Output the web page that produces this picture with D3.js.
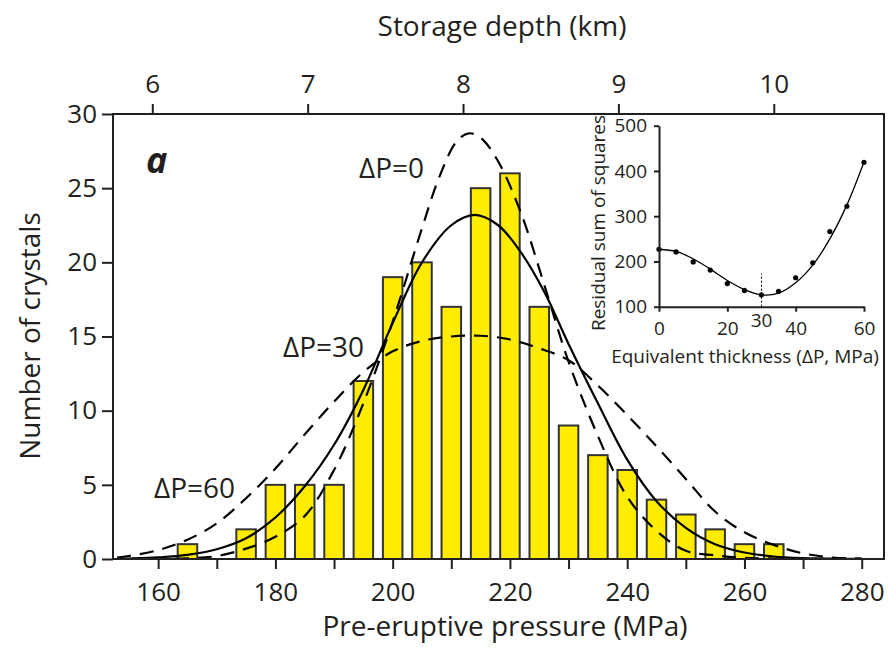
<!DOCTYPE html>
<html><head><meta charset="utf-8">
<script src="https://cdn.jsdelivr.net/npm/d3@7"></script>
<style>
body{margin:0;background:#fff;}
svg text{font-family:"Open Sans",sans-serif;fill:#231f20;}
</style></head>
<body><svg id="c" width="888" height="651"></svg>
<script>
// ---- data ----
const binCenters = [165,170,175,180,185,190,195,200,205,210,215,220,225,230,235,240,245,250,255,260,265];
const crystalCounts = [1,0,2,5,5,5,12,19,20,17,25,26,17,9,7,6,4,3,2,1,1];

const pressureTicks = [160,170,180,190,200,210,220,230,240,250,260,270,280];
const pressureLabels = [160,180,200,220,240,260,280];
const depthTicks = [6,7,8,9,10];
const countTicks = [0,5,10,15,20,25,30];

// model curves
const curveP0 = [155,160,165,170,175,180,185,190,195,200,205,208,211,213,215,218,222,226,230,235,240,245,250,255,260,265,270,275,280];
const curveV0 = [0,0.01,0.05,0.2,0.7,1.5,2.9,6.0,10.5,16.0,22.3,25.8,28.2,28.7,28.4,26.8,23.2,18.3,13.3,8.3,4.2,1.9,0.55,0.25,0.08,0.03,0.01,0,0];
const curveP30 = [153,155,160,165,170,175,180,185,190,195,200,205,210,214,218,222,226,230,235,240,245,250,255,260,265,270,275,280];
const curveV30 = [0.01,0.03,0.11,0.28,0.66,1.4,2.8,4.9,7.7,11.4,15.9,20.0,22.5,23.2,22.5,20.6,17.9,14.5,10.5,6.7,3.9,2.1,1.0,0.44,0.17,0.06,0.02,0.01];
const curveP60 = [153,155,160,165,170,175,180,185,190,195,200,205,210,215,220,225,230,235,240,245,250,255,260,265,270,275,280];
const curveV60 = [0.1,0.2,0.6,1.3,2.4,4.1,6.1,8.4,10.6,12.6,14.0,14.7,15.0,15.05,14.8,14.2,13.4,11.7,9.7,7.6,5.4,3.2,1.8,0.95,0.38,0.1,0.03];
const curveLabels = ["ΔP=0","ΔP=30","ΔP=60"];

// inset
const insetDP = [0,5,10,15,20,25,30,35,40,45,50,55,60];
const insetRSS = [227,221,199,181,151,136,126,134,164,197,266,322,419];
const insetFit = [227,222,206,183,158,138,126,130,153,192,250,325,420];
const insetXTicks = [0,20,40,60];
const insetYTicks = [100,200,300,400,500];
const bestDP = 30;

// ---- layout ----
const L=113, R=884, T=114, B=559;
const svg = d3.select("#c");
const ink = "#231f20";
const x = d3.scaleLinear().domain([152.3,283.8]).range([L,R]);
const xTop = d3.scaleLinear().domain([152.3/26.5,283.8/26.5]).range([L,R]);
const y = d3.scaleLinear().domain([0,30]).range([B,T]);

// bars
const bw = 3.33;
svg.append("g").selectAll("rect").data(binCenters.map((c,i)=>({c,v:crystalCounts[i]})).filter(d=>d.v>0))
  .join("rect")
  .attr("x",d=>x(d.c-bw/2)).attr("width",d=>x(d.c+bw/2)-x(d.c-bw/2))
  .attr("y",d=>y(d.v)).attr("height",d=>y(0)-y(d.v))
  .attr("fill","#ffec00").attr("stroke","#333").attr("stroke-width",2);

// curves
const line = d3.line().x(d=>x(d[0])).y(d=>y(d[1])).curve(d3.curveCatmullRom);
function drawCurve(P,V,dash){
  svg.append("path").datum(P.map((p,i)=>[p,V[i]]))
    .attr("d",line).attr("fill","none").attr("stroke","#000")
    .attr("stroke-width",2.2).attr("stroke-dasharray",dash?"14,9":null);
}
drawCurve(curveP60,curveV60,true);
drawCurve(curveP0,curveV0,true);
drawCurve(curveP30,curveV30,false);

// frame
svg.append("rect").attr("x",L).attr("y",T).attr("width",R-L).attr("height",B-T)
  .attr("fill","none").attr("stroke",ink).attr("stroke-width",2);

// axes
function styleAxis(g){
  g.select(".domain").remove();
  g.selectAll(".tick line").attr("stroke",ink).attr("stroke-width",2);
  g.selectAll(".tick text").attr("font-size",26).attr("fill",ink);
}
svg.append("g").attr("transform",`translate(0,${B})`)
  .call(d3.axisBottom(x).tickValues(pressureTicks).tickSize(10).tickPadding(14)
    .tickFormat(d=>pressureLabels.includes(d)?d:""))
  .call(styleAxis);
svg.append("g").attr("transform",`translate(0,${T})`)
  .call(d3.axisTop(xTop).tickValues(depthTicks).tickSize(10).tickPadding(11).tickFormat(d3.format("d")))
  .call(styleAxis);
svg.append("g").attr("transform",`translate(${L},0)`)
  .call(d3.axisLeft(y).tickValues(countTicks).tickSize(11).tickPadding(5))
  .call(styleAxis);

// titles
svg.append("text").attr("x",505).attr("y",636).attr("text-anchor","middle").attr("font-size",28).text("Pre-eruptive pressure (MPa)");
svg.append("text").attr("x",502).attr("y",36).attr("text-anchor","middle").attr("font-size",28).text("Storage depth (km)");
svg.append("text").attr("transform","translate(30,336) rotate(-90)").attr("dy","0.35em").attr("text-anchor","middle").attr("font-size",28).text("Number of crystals");
svg.append("text").attr("x",146).attr("y",173).attr("font-size",36).attr("font-weight","bold").attr("font-style","italic").text("a");

// curve labels
const labelPos = [[359,178],[283,357],[154,498]];
curveLabels.forEach((t,i)=>svg.append("text").attr("x",labelPos[i][0]).attr("y",labelPos[i][1]).attr("font-size",28).text(t));

// ---- inset ----
const ix = d3.scaleLinear().domain([0,60]).range([659,864]);
const iy = d3.scaleLinear().domain([100,500]).range([306.7,125.7]);
const ig = svg.append("g");
ig.append("line").attr("x1",ix(bestDP)).attr("x2",ix(bestDP)).attr("y1",iy(100)).attr("y2",iy(173))
  .attr("stroke","#000").attr("stroke-width",1).attr("stroke-dasharray","2,2");
ig.append("path").datum(insetDP.map((d,i)=>[d,insetFit[i]]))
  .attr("d",d3.line().x(d=>ix(d[0])).y(d=>iy(d[1])).curve(d3.curveCatmullRom))
  .attr("fill","none").attr("stroke","#000").attr("stroke-width",1.3);
ig.selectAll("circle").data(insetDP.map((d,i)=>[d,insetRSS[i]])).join("circle")
  .attr("cx",d=>ix(d[0])).attr("cy",d=>iy(d[1])).attr("r",2.6).attr("fill","#000");
function styleInset(g){
  g.select(".domain").attr("stroke",ink).attr("stroke-width",2);
  g.selectAll(".tick line").attr("stroke",ink).attr("stroke-width",2);
  g.selectAll(".tick text").attr("font-size",19).attr("fill",ink);
}
ig.append("g").attr("transform",`translate(0,${iy(100)})`)
  .call(d3.axisBottom(ix).tickValues(insetXTicks).tickSize(5).tickSizeOuter(0).tickPadding(10))
  .call(styleInset);
ig.append("g").attr("transform",`translate(${ix(0)},0)`)
  .call(d3.axisLeft(iy).tickValues(insetYTicks).tickSize(5).tickSizeOuter(0).tickPadding(7))
  .call(styleInset);
ig.append("text").attr("x",ix(bestDP)).attr("y",327).attr("text-anchor","middle").attr("font-size",19).text(String(bestDP));
ig.append("text").attr("x",745).attr("y",363).attr("text-anchor","middle").attr("font-size",19).text("Equivalent thickness (ΔP, MPa)");
ig.append("text").attr("transform","translate(598,223) rotate(-90)").attr("dy","0.35em").attr("text-anchor","middle").attr("font-size",19).text("Residual sum of squares");
</script></body></html>
